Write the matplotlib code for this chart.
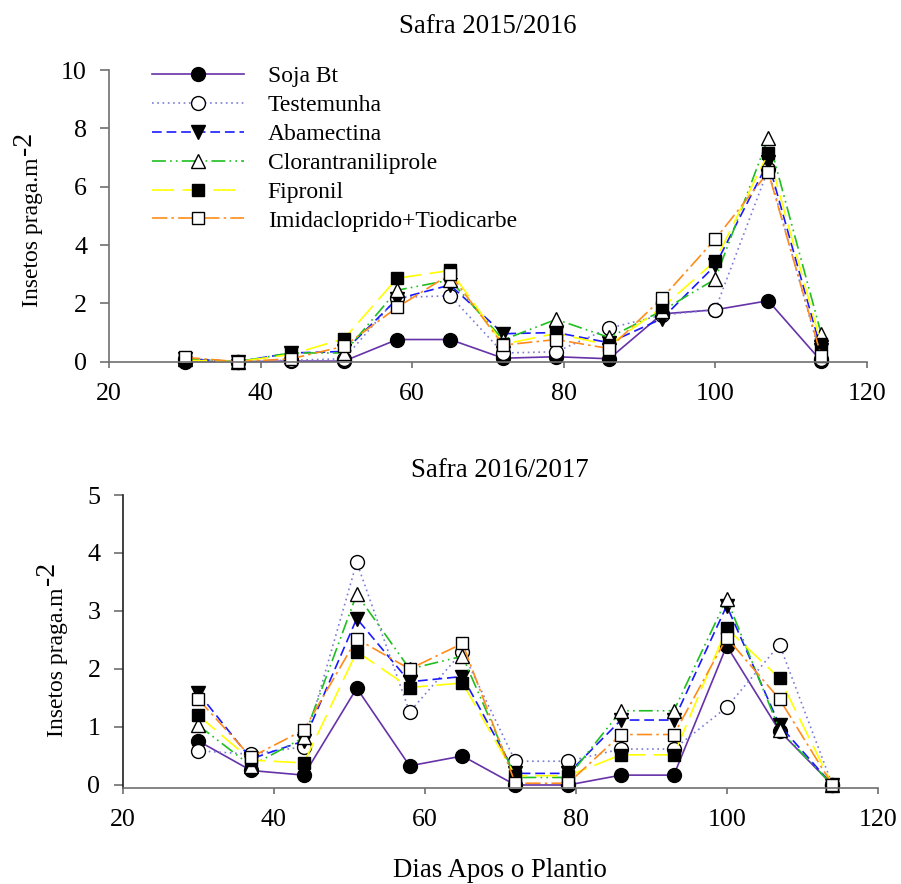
import matplotlib
matplotlib.use('Agg')
from matplotlib import pyplot as plt

plt.rcParams['font.family'] = ['Liberation Serif', 'DejaVu Serif']
plt.rcParams['lines.scale_dashes'] = False

dias = [30, 37, 44, 51, 58, 65, 72, 79, 86, 93, 100, 107, 114]
nomes = ['Soja Bt', 'Testemunha', 'Abamectina', 'Clorantraniliprole',
         'Fipronil', 'Imidacloprido+Tiodicarbe']

# safra 2015/2016
soja_15 = [0.0, 0.0, 0.02, 0.02, 0.76, 0.76, 0.12, 0.17, 0.1, 1.64, 1.78, 2.09, 0.02]
test_15 = [0.1, 0.0, 0.05, 0.1, 2.2, 2.26, 0.3, 0.34, 1.15, 1.6, 1.78, 6.6, 0.1]
abam_15 = [0.1, 0.0, 0.3, 0.35, 2.15, 2.63, 0.96, 1.0, 0.65, 1.48, 3.3, 6.85, 0.4]
clor_15 = [0.1, 0.0, 0.3, 0.3, 2.45, 2.8, 0.75, 1.45, 0.83, 1.75, 2.83, 7.68, 0.95]
fipr_15 = [0.05, 0.0, 0.25, 0.79, 2.86, 3.13, 0.6, 0.97, 0.57, 1.86, 3.45, 7.15, 0.59]
imid_15 = [0.15, 0.0, 0.1, 0.53, 1.86, 3.0, 0.57, 0.76, 0.45, 2.18, 4.2, 6.5, 0.19]

# safra 2016/2017
soja_16 = [0.76, 0.25, 0.17, 1.67, 0.33, 0.5, 0.0, 0.0, 0.17, 0.17, 2.4, 0.93, 0.0]
test_16 = [0.59, 0.53, 0.66, 3.84, 1.26, 2.3, 0.41, 0.41, 0.62, 0.62, 1.34, 2.42, 0.0]
abam_16 = [1.59, 0.45, 0.76, 2.87, 1.78, 1.87, 0.2, 0.2, 1.12, 1.12, 3.09, 1.03, 0.0]
clor_16 = [1.03, 0.33, 0.82, 3.29, 2.0, 2.22, 0.13, 0.13, 1.28, 1.28, 3.21, 0.95, 0.0]
fipr_16 = [1.2, 0.43, 0.38, 2.3, 1.68, 1.76, 0.16, 0.16, 0.52, 0.52, 2.7, 1.84, 0.0]
imid_16 = [1.48, 0.48, 0.95, 2.52, 2.0, 2.44, 0.03, 0.03, 0.87, 0.87, 2.54, 1.48, 0.0]

estilos = [
    dict(color='#6632a8', linestyle='-', marker='o', mfc='black', ms=10),
    dict(color='#7b7bd8', dashes=(1.2, 2.6), marker='o', mfc='white', ms=10),
    dict(color='#1a1aff', dashes=(7, 3.5), marker='v', mfc='black', ms=10),
    dict(color='#1fbf1f', dashes=(10, 3, 1.2, 3, 1.2, 3), marker='^', mfc='white', ms=10),
    dict(color='#ffff00', dashes=(16, 6), marker='s', mfc='black', ms=9),
    dict(color='#ff8c1a', dashes=(11, 3, 1.8, 3), marker='s', mfc='white', ms=9),
]

W, H = 901, 884
fig = plt.figure(figsize=(W / 100, H / 100), dpi=100)
ax1 = fig.add_axes([109.3 / W, (H - 361.7) / H, 757.4 / W, 291.7 / H])
ax2 = fig.add_axes([122.7 / W, (H - 787.6) / H, 755 / W, 292.6 / H])


def px(x, y):
    return x / W, 1 - y / H


def estilo_eixo(ax, cor_esq):
    for s in ['top', 'right']:
        ax.spines[s].set_visible(False)
    ax.spines['left'].set_color(cor_esq)
    ax.spines['bottom'].set_color('#707070')
    for s in ['left', 'bottom']:
        ax.spines[s].set_linewidth(1.2)
    ax.tick_params(axis='x', direction='out', length=4.3, width=1.2, color='#707070',
                   labelsize=18.7, pad=11)
    ax.tick_params(axis='y', direction='out', length=6.5, width=1.2, color='#707070',
                   labelsize=18.7, pad=9.5)
    ax.set_xlim(20, 120)
    ax.set_xticks([20, 40, 60, 80, 100, 120])


for serie, nome, st in zip([soja_15, test_15, abam_15, clor_15, fipr_15, imid_15], nomes, estilos):
    ax1.plot(dias, serie, label=nome, lw=1.2, mec='black', mew=1.0, clip_on=False, **st)

for serie, nome, st in zip([soja_16, test_16, abam_16, clor_16, fipr_16, imid_16], nomes, estilos):
    ax2.plot(dias, serie, label=nome, lw=1.2, mec='black', mew=1.0, clip_on=False, **st)

estilo_eixo(ax1, '#707070')
ax1.set_ylim(0, 10)
ax1.set_yticks([0, 2, 4, 6, 8, 10])

estilo_eixo(ax2, '#202020')
ax2.set_ylim(-0.045, 5)
ax2.set_yticks([0, 1, 2, 3, 4, 5])

# titulos e rotulos em posicao fixa
fig.text(*px(487.5, 33.3), 'Safra 2015/2016', fontsize=19.3, ha='center', va='baseline')
fig.text(*px(500, 476.7), 'Safra 2016/2017', fontsize=19.3, ha='center', va='baseline')
fig.text(*px(500, 877.3), 'Dias Apos o Plantio', fontsize=19.3, ha='center', va='baseline')

# (baseline x, inicio y, baseline x do expoente)
for bx, y0, sx in [(38, 307, 31), (62.5, 737, 54)]:
    fig.text(*px(bx, y0), 'Insetos praga.m', fontsize=17, rotation=90,
             rotation_mode='anchor', ha='left', va='baseline')
    fig.text(*px(sx, y0 - 152), '-2', fontsize=20, rotation=90,
             rotation_mode='anchor', ha='left', va='baseline')

ax1.legend(loc='upper left', bbox_to_anchor=(0.0562, 1.014), frameon=False,
           fontsize=17, handlelength=3.92, handletextpad=0.99, labelspacing=0.31,
           borderaxespad=0, borderpad=0, numpoints=1)

fig.savefig('out.png', dpi=100)
